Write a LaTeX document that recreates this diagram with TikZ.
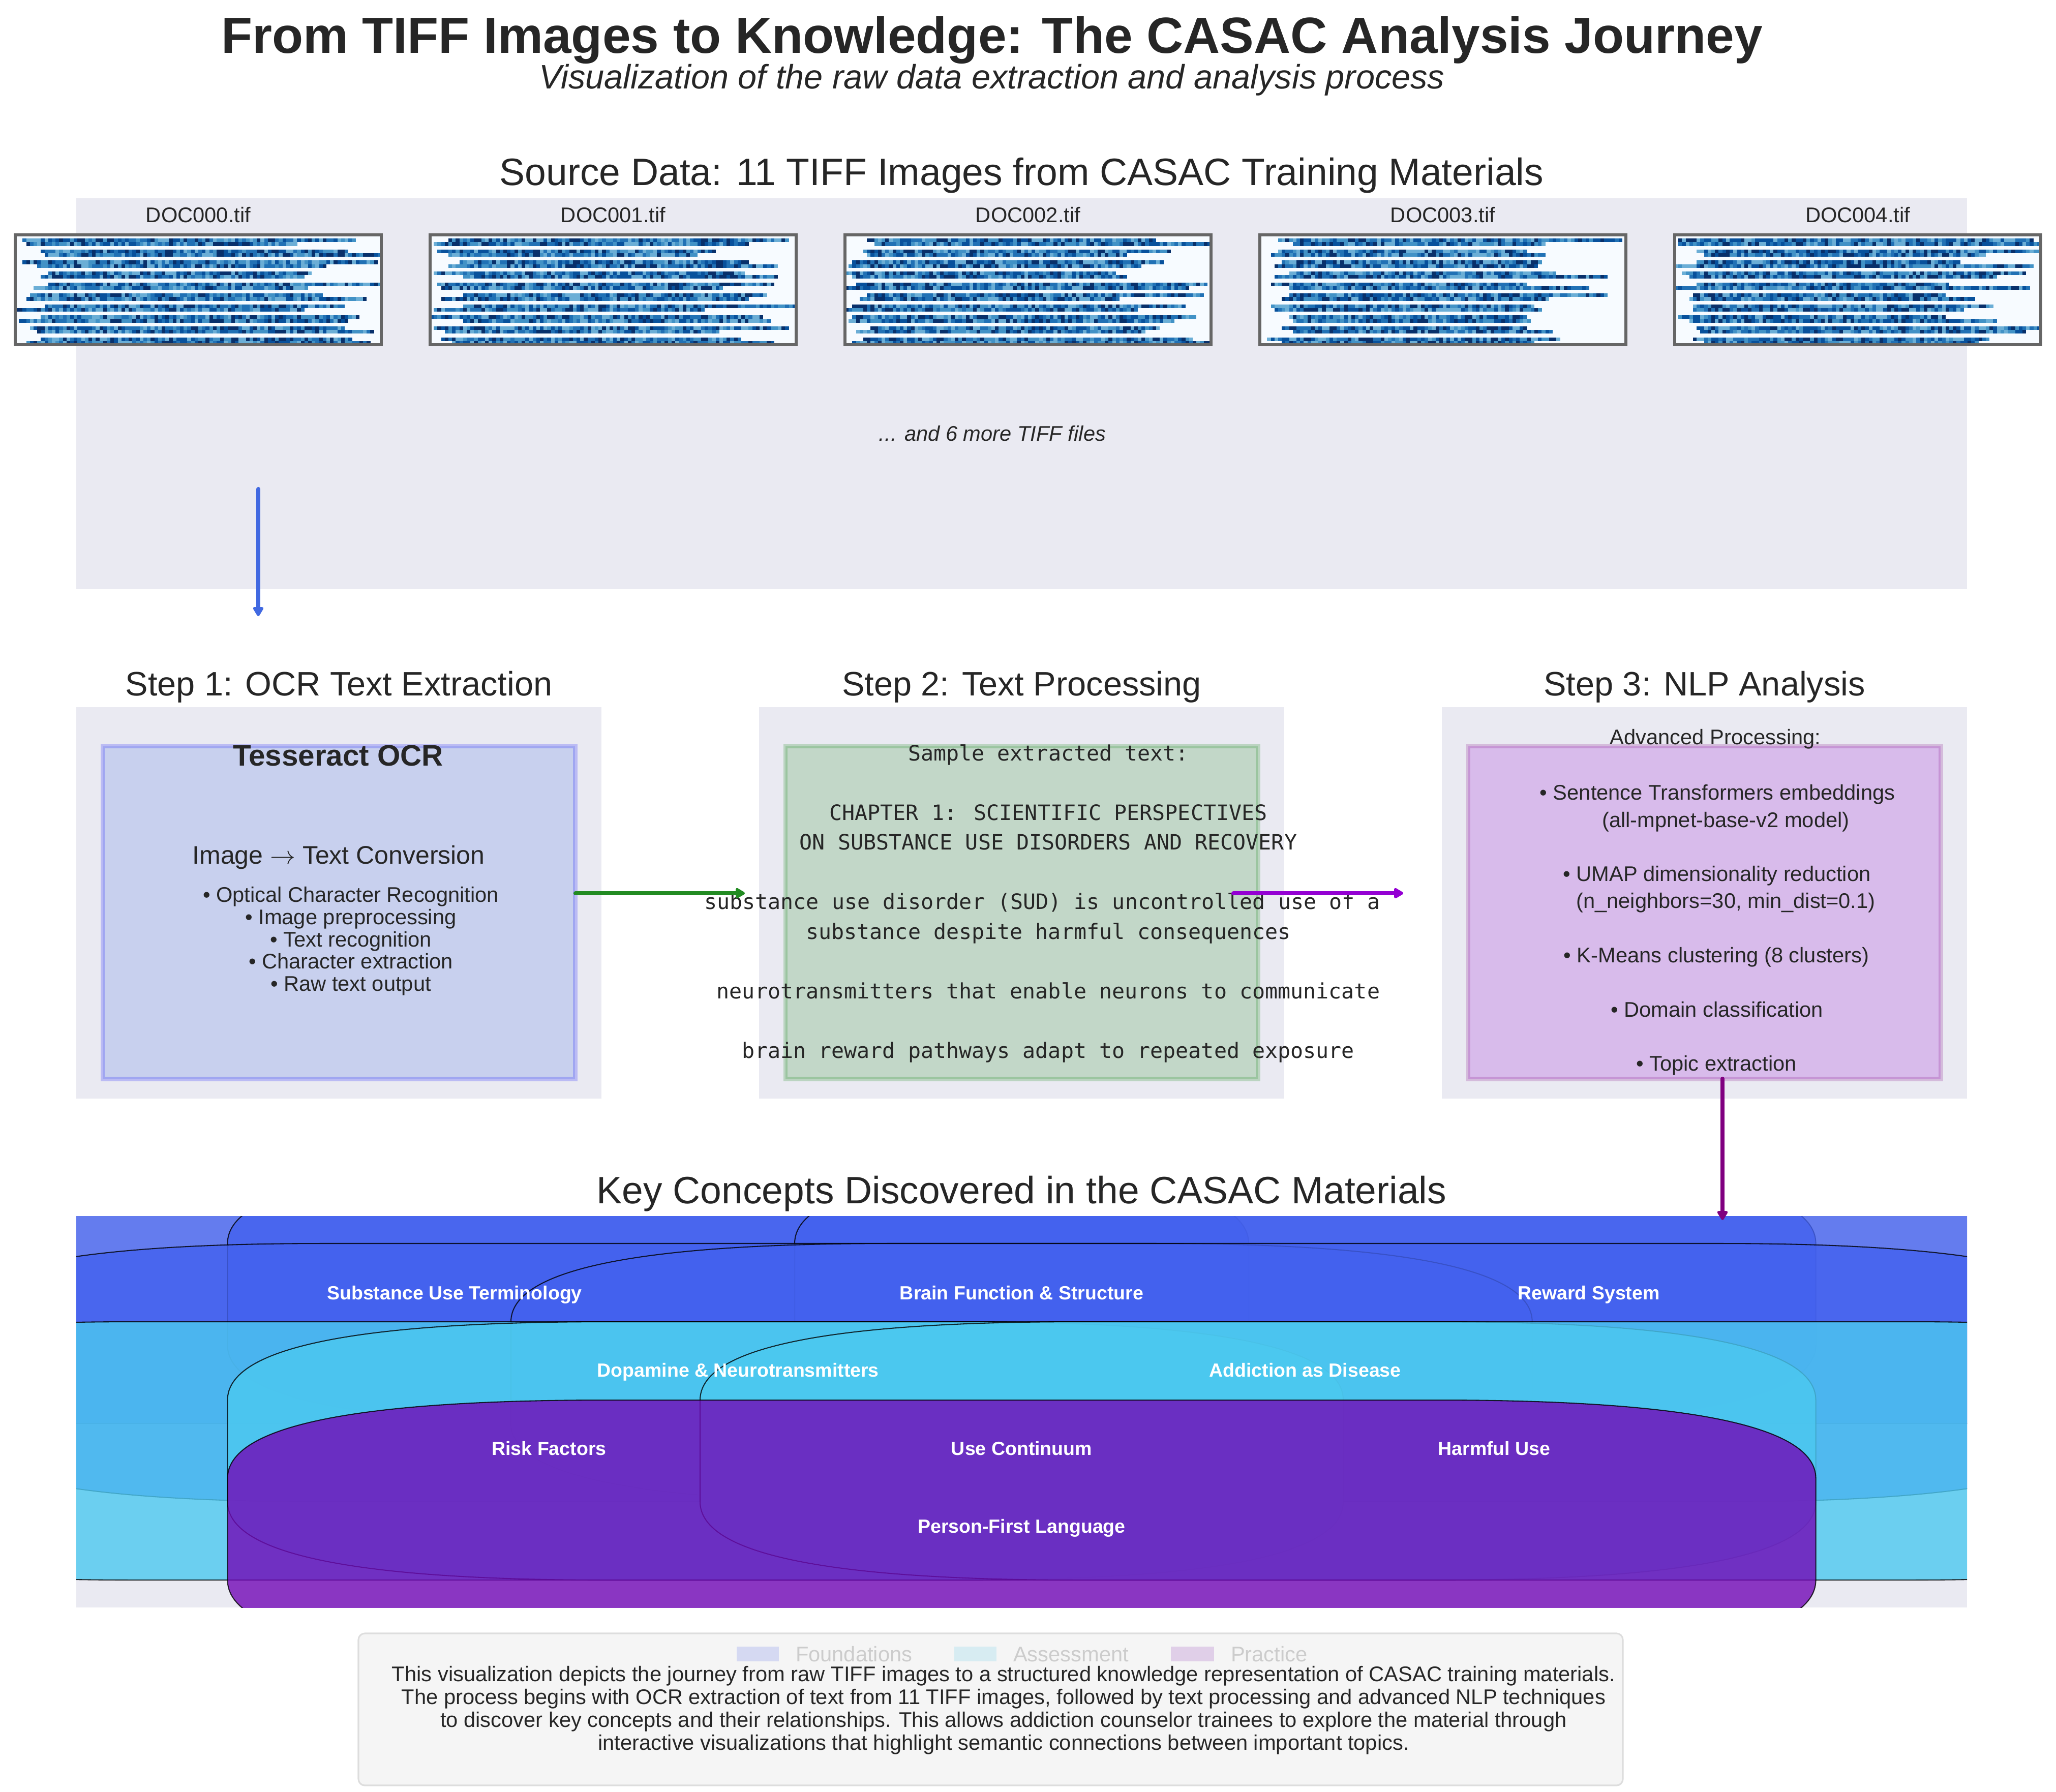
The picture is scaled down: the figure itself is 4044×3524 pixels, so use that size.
\documentclass[tikz,border=0pt]{standalone}
\usepackage{fontspec}
\setmainfont{Liberation Sans}
\newfontfamily\monofont{DejaVu Sans Mono}
\usetikzlibrary{arrows.meta}
\definecolor{ink}{HTML}{262626}
\definecolor{panelbg}{HTML}{EAEAF2}
\definecolor{found}{HTML}{4361EE}
\definecolor{assess}{HTML}{4CC9F0}
\definecolor{pract}{HTML}{7209B7}
\definecolor{rblue}{HTML}{4169E1}
\definecolor{fgreen}{HTML}{228B22}
\definecolor{pgreen}{HTML}{008000}
\definecolor{dviolet}{HTML}{9400D3}
\definecolor{mpurple}{HTML}{800080}
\definecolor{thgray}{HTML}{666666}
\definecolor{thbg}{HTML}{F7FBFF}
\definecolor{bl1}{HTML}{6BAED6}
\definecolor{bl2}{HTML}{4292C6}
\definecolor{bl3}{HTML}{2171B5}
\definecolor{bl4}{HTML}{08519C}
\definecolor{bl5}{HTML}{08306B}
\definecolor{footbg}{HTML}{F5F5F5}
\definecolor{footedge}{HTML}{DDDDDD}
\definecolor{legF}{HTML}{D5D9F2}
\definecolor{legA}{HTML}{D7ECF2}
\definecolor{legP}{HTML}{E0CFE8}
\definecolor{legtxt}{HTML}{CCCCCC}
\newcommand\fsz[1]{\fontsize{#1bp}{#1bp}\selectfont}
% concept box: rounded rectangle centred at (#1,#2), quadratic-like corners
\newcommand\cbox[3]{%
  \pgfmathsetmacro\xa{#1-1562}\pgfmathsetmacro\xb{#1+1562}%
  \pgfmathsetmacro\ya{#2-254}\pgfmathsetmacro\yb{#2+254}%
  \path[cboxstyle, fill=#3] (\xa+744,\ya) -- (\xb-744,\ya)
    .. controls (\xb-248,\ya) and (\xb,\ya+51.3) .. (\xb,\ya+154)
    -- (\xb,\yb-154)
    .. controls (\xb,\yb-51.3) and (\xb-248,\yb) .. (\xb-744,\yb)
    -- (\xa+744,\yb)
    .. controls (\xa+248,\yb) and (\xa,\yb-51.3) .. (\xa,\yb-154)
    -- (\xa,\ya+154)
    .. controls (\xa,\ya+51.3) and (\xa+248,\ya) .. (\xa+744,\ya) -- cycle;%
}
\tikzset{
  txt/.style={inner sep=0pt, outer sep=0pt, anchor=base, text=ink},
  clabel/.style={txt, text=white, font=\fsz{9}\bfseries},
  cboxstyle/.style={fill opacity=0.8, draw=black, draw opacity=0.8, line width=0.5bp},
  arr/.style={line width=2bp, line cap=round, line join=round,
    -{Triangle[length=5pt,width=5.5pt,round]}},
  stepbox/.style={fill opacity=0.2, draw opacity=0.2, line width=2bp},
  mono/.style={txt, font=\fsz{10}\monofont},
  small/.style={txt, font=\fsz{10}},
}
\begin{document}
\begin{tikzpicture}[x=0.0846667mm, y=-0.0846667mm]
\useasboundingbox (0,0) rectangle (4044,3524);
\fill[white] (0,0) rectangle (4044,3524);

% ---------- titles ----------
\node[txt, font=\fsz{24}\bfseries] (title) at (1951,104) {From TIFF Images to Knowledge: The CASAC Analysis Journey};
\node[txt, font=\fsz{16}\itshape] (subtitle) at (1951,174) {Visualization of the raw data extraction and analysis process};

% ---------- source data panel ----------
\fill[panelbg] (150,390) rectangle (3869,1159);
\node[txt, font=\fsz{18}] (srctitle) at (2009.5,364) {Source Data: 11 TIFF Images from CASAC Training Materials};

\pgfmathsetseed{4242}
\foreach \ti in {0,...,4}{
  \pgfmathsetmacro\xo{30+816*\ti}
  \fill[thbg] (\xo,462) rectangle (\xo+720,678);
  \begin{scope}
    \clip (\xo,462) rectangle (\xo+720,678);
    \foreach \li in {0,...,9}{
      \foreach \ri in {1,2}{
        \pgfmathtruncatemacro\colS{random(0,9)}
        \pgfmathtruncatemacro\colE{random(72,100)}
        \pgfmathsetmacro\yt{462+7.2*(3*\li+\ri)}
        \foreach \ci in {\colS,...,\colE}{
          \pgfmathtruncatemacro\kk{random(1,5)}
          \fill[bl\kk] (\xo+7.2*\ci,\yt) rectangle ++(7.3,7.2);
        }
      }
    }
  \end{scope}
  \draw[thgray, line width=1.5bp] (\xo,462) rectangle (\xo+720,678);
  \node[txt, font=\fsz{10}] (doc\ti) at (\xo+360,437) {DOC00\ti.tif};
}
\node[txt, font=\fsz{10}\itshape] (more) at (1952,867) {... and 6 more TIFF files};

% ---------- step panels ----------
\fill[panelbg] (150,1391) rectangle (1183,2161);
\fill[panelbg] (1493,1391) rectangle (2526,2161);
\fill[panelbg] (2836,1391) rectangle (3869,2161);
\node[txt, font=\fsz{16}] (s1title) at (666.5,1368) {Step 1: OCR Text Extraction};
\node[txt, font=\fsz{16}] (s2title) at (2009.5,1368) {Step 2: Text Processing};
\node[txt, font=\fsz{16}] (s3title) at (3352.5,1368) {Step 3: NLP Analysis};

\path[stepbox, fill=rblue, draw=blue] (201.7,1468) rectangle (1131.4,2122.5);
\path[stepbox, fill=fgreen, draw=pgreen] (1544.7,1468) rectangle (2474.4,2122.5);
\path[stepbox, fill=dviolet, draw=mpurple] (2887.7,1468) rectangle (3817.4,2122.5);

% step 1 text
\node[txt, font=\fsz{14}\bfseries] (tess) at (665,1506) {Tesseract OCR};
\node[txt, font=\fsz{12}] (conv) at (666,1699) {Image $\rightarrow$ Text Conversion};
\node[small] (b1) at (690,1774) {• Optical Character Recognition};
\node[small] (b2) at (690,1818) {• Image preprocessing};
\node[small] (b3) at (690,1862) {• Text recognition};
\node[small] (b4) at (690,1905) {• Character extraction};
\node[small] (b5) at (690,1949) {• Raw text output};

% step 2 text
\node[mono] (m0) at (2062,1496) {Sample extracted text:};
\node[mono] (m2) at (2062,1613) {CHAPTER 1: SCIENTIFIC PERSPECTIVES};
\node[mono] (m3) at (2062,1671.5) {ON SUBSTANCE USE DISORDERS AND RECOVERY};
\node[mono] (m5) at (2050,1788.5) {substance use disorder (SUD) is uncontrolled use of a};
\node[mono] (m6) at (2062,1847) {substance despite harmful consequences};
\node[mono] (m8) at (2062,1964) {neurotransmitters that enable neurons to communicate};
\node[mono] (m10) at (2062,2081) {brain reward pathways adapt to repeated exposure};

% step 3 text
\node[small] (n0) at (3374,1464) {Advanced Processing:};
\node[small] (n2) at (3378,1573) {• Sentence Transformers embeddings};
\node[small] (n3) at (3394.5,1627) {(all-mpnet-base-v2 model)};
\node[small] (n5) at (3377,1733.5) {• UMAP dimensionality reduction};
\node[small] (n6) at (3394.5,1786.5) {(n\_neighbors=30, min\_dist=0.1)};
\node[small] (n8) at (3376,1893) {• K-Means clustering (8 clusters)};
\node[small] (n10) at (3377,2000) {• Domain classification};
\node[small] (n12) at (3376,2106.5) {• Topic extraction};

% ---------- key concepts panel ----------
\fill[panelbg] (150,2392) rectangle (3869,3162);
\node[txt, font=\fsz{18}] (keytitle) at (2009.5,2367) {Key Concepts Discovered in the CASAC Materials};
\begin{scope}
  \clip (150,2392) rectangle (3869,3162);
  \cbox{894}{2546}{found}
  \cbox{2009.5}{2546}{found}
  \cbox{3125}{2546}{found}
  \cbox{1451.7}{2700}{found}
  \cbox{2567}{2700}{found}
  \cbox{1080}{2854}{assess}
  \cbox{2009.5}{2854}{assess}
  \cbox{2939}{2854}{assess}
  \cbox{2009.5}{3008}{pract}
\end{scope}
\node[clabel] (c1) at (894,2556) {Substance Use Terminology};
\node[clabel] (c2) at (2009.5,2556) {Brain Function \& Structure};
\node[clabel] (c3) at (3125,2556) {Reward System};
\node[clabel] (c4) at (1451.7,2708) {Dopamine \& Neurotransmitters};
\node[clabel] (c5) at (2567,2708) {Addiction as Disease};
\node[clabel] (c6) at (1080,2862) {Risk Factors};
\node[clabel] (c7) at (2009.5,2862) {Use Continuum};
\node[clabel] (c8) at (2939,2862) {Harmful Use};
\node[clabel] (c9) at (2009.5,3015) {Person-First Language};

% ---------- arrows ----------
\coordinate (a1s) at (508,962);   \coordinate (a1e) at (508,1212);
\coordinate (a2s) at (1132,1757); \coordinate (a2e) at (1465,1757);
\coordinate (a3s) at (2426,1757); \coordinate (a3e) at (2760,1757);
\coordinate (a4s) at (3388,2122); \coordinate (a4e) at (3388,2400);
\draw[arr, rblue] (a1s) -- (a1e);
\draw[arr, fgreen] (a2s) -- (a2e);
\draw[arr, dviolet] (a3s) -- (a3e);
\draw[arr, mpurple] (a4s) -- (a4e);

% ---------- footer ----------
\path[fill=footbg, draw=footedge, line width=0.75bp, rounded corners=3bp] (705,3213) rectangle (3192,3512);
\fill[legF] (1449,3239) rectangle (1532,3268);
\fill[legA] (1877,3239) rectangle (1960,3268);
\fill[legP] (2303,3239) rectangle (2388,3268);
\node[small, anchor=base west, text=legtxt] (lg1) at (1565,3268) {Foundations};
\node[small, anchor=base west, text=legtxt] (lg2) at (1993,3268) {Assessment};
\node[small, anchor=base west, text=legtxt] (lg3) at (2421,3268) {Practice};
\node[small] (f1) at (1974,3307) {This visualization depicts the journey from raw TIFF images to a structured knowledge representation of CASAC training materials.};
\node[small] (f2) at (1974,3352) {The process begins with OCR extraction of text from 11 TIFF images, followed by text processing and advanced NLP techniques};
\node[small] (f3) at (1974,3397) {to discover key concepts and their relationships. This allows addiction counselor trainees to explore the material through};
\node[small] (f4) at (1974,3442) {interactive visualizations that highlight semantic connections between important topics.};
\end{tikzpicture}
\end{document}
